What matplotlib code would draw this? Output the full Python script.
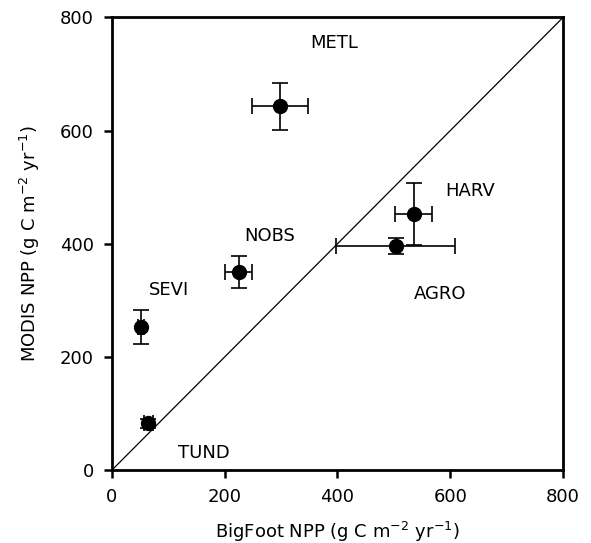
import numpy as np
import matplotlib.pyplot as plt

plt.rcParams['font.family'] = 'DejaVu Sans'
plt.rcParams['mathtext.default'] = 'regular'

# site NPP comparison: BigFoot vs MODIS (g C m-2 yr-1)
sites = ['METL', 'NOBS', 'SEVI', 'HARV', 'AGRO', 'TUND']
bigfoot = [298, 225, 51, 535, 503, 64]
bigfoot_err = [50, 24, 5, 33, 106, 8]
modis = [643, 350, 253, 453, 396, 83]
modis_err = [42, 28, 30, 55, 14, 8]

# where each site name is written
label_x = [395, 280, 101, 635, 582, 163]
label_y = [755, 414, 318, 494, 312, 30]

fig = plt.figure(figsize=(5.91, 5.43), dpi=100)
ax = fig.add_axes([0.1895, 0.1344, 0.7631, 0.8334])

# 1:1 line
ax.plot([0, 800], [0, 800], color='black', lw=0.9, zorder=1)

ax.errorbar(bigfoot, modis, xerr=bigfoot_err, yerr=modis_err, fmt='o',
            color='black', ms=10, elinewidth=1.2, capsize=6, capthick=1.2,
            zorder=3)

for name, lx, ly in zip(sites, label_x, label_y):
    ax.text(lx, ly, name, ha='center', va='center', fontsize=13)

ax.set_xlim(0, 800)
ax.set_ylim(0, 800)
ax.set_xticks([0, 200, 400, 600, 800])
ax.set_yticks([0, 200, 400, 600, 800])
ax.tick_params(direction='out', length=6, width=1.8, labelsize=13, pad=7)
for sp in ax.spines.values():
    sp.set_linewidth(2)

ax.set_xlabel('BigFoot NPP (g C m$^{-2}$ yr$^{-1}$)', fontsize=13, labelpad=10)
ax.set_ylabel('MODIS NPP (g C m$^{-2}$ yr$^{-1}$)', fontsize=13, labelpad=13)

fig.savefig('out.png', dpi=100)
